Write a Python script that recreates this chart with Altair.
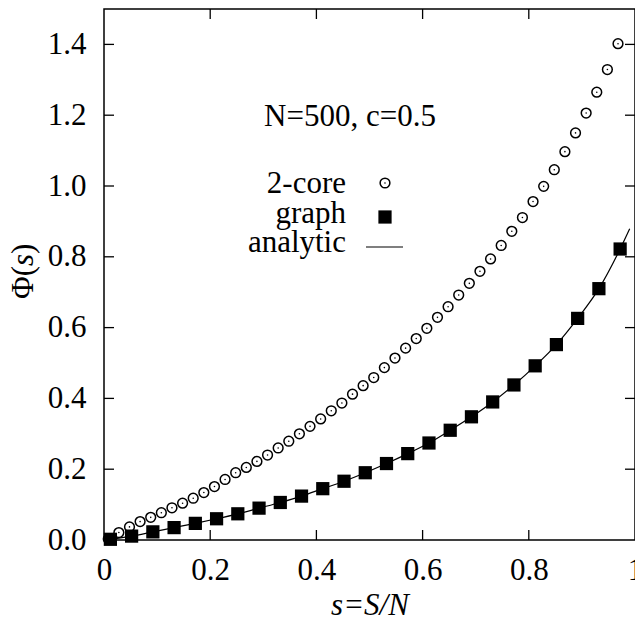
import altair as alt
import pandas as pd

# ---- data ----
core_x = [0.008, 0.028, 0.048, 0.068, 0.088, 0.108, 0.128, 0.148, 0.168, 0.188,
          0.208, 0.228, 0.248, 0.268, 0.288, 0.308, 0.328, 0.348, 0.368, 0.388,
          0.408, 0.428, 0.448, 0.468, 0.488, 0.508, 0.528, 0.548, 0.568, 0.588,
          0.608, 0.628, 0.648, 0.668, 0.688, 0.708, 0.728, 0.748, 0.768, 0.788,
          0.808, 0.828, 0.848, 0.868, 0.888, 0.908, 0.928, 0.948, 0.968]
core_y = [0.003, 0.021, 0.037, 0.052, 0.064, 0.077, 0.091, 0.104, 0.118, 0.134,
          0.151, 0.171, 0.190, 0.205, 0.222, 0.240, 0.260, 0.279, 0.300, 0.321,
          0.342, 0.365, 0.387, 0.412, 0.436, 0.459, 0.487, 0.514, 0.542, 0.569,
          0.598, 0.629, 0.659, 0.692, 0.725, 0.759, 0.794, 0.832, 0.872, 0.911,
          0.956, 0.999, 1.046, 1.097, 1.150, 1.206, 1.265, 1.329, 1.402]

graph_x = [0.012, 0.052, 0.092, 0.132, 0.172, 0.212, 0.252, 0.292, 0.332, 0.372,
           0.412, 0.452, 0.492, 0.532, 0.572, 0.612, 0.652, 0.692, 0.732, 0.772,
           0.812, 0.852, 0.892, 0.932, 0.972]
graph_y = [0.002, 0.011, 0.023, 0.035, 0.047, 0.060, 0.074, 0.090, 0.106, 0.124,
           0.145, 0.166, 0.190, 0.216, 0.244, 0.274, 0.310, 0.348, 0.390, 0.438,
           0.492, 0.552, 0.626, 0.710, 0.822]

line_x = [0.0, 0.012, 0.052, 0.092, 0.132, 0.172, 0.212, 0.252, 0.292, 0.332, 0.372,
          0.412, 0.452, 0.492, 0.532, 0.572, 0.612, 0.652, 0.692, 0.732, 0.772,
          0.812, 0.852, 0.892, 0.932, 0.972, 0.99]
line_y = [0.0, 0.002, 0.011, 0.023, 0.035, 0.047, 0.060, 0.074, 0.090, 0.106, 0.124,
          0.145, 0.166, 0.190, 0.216, 0.244, 0.274, 0.310, 0.348, 0.390, 0.438,
          0.492, 0.552, 0.626, 0.710, 0.822, 0.879]

x_tick_values = [0, 0.2, 0.4, 0.6, 0.8, 1]
y_tick_values = [0, 0.2, 0.4, 0.6, 0.8, 1.0, 1.2, 1.4]
x_inner_ticks = [0.2, 0.4, 0.6, 0.8]
y_inner_ticks = [0.2, 0.4, 0.6, 0.8, 1.0, 1.2, 1.4]

annotation = "N=500, c=0.5"
legend_labels = ["2-core", "graph", "analytic"]
x_title = "s=S/N"

# ---- layout ----
W, H = 531, 531
FONT = "Liberation Serif, Times New Roman, Times, serif"
FS = 31
TICK = 10

xs = alt.Scale(domain=[0, 1], nice=False, zero=False)
ys = alt.Scale(domain=[0, 1.5], nice=False, zero=False)

core_df = pd.DataFrame({"s": core_x, "phi": core_y})
graph_df = pd.DataFrame({"s": graph_x, "phi": graph_y})
line_df = pd.DataFrame({"s": line_x, "phi": line_y})
xt_df = pd.DataFrame({"s": x_inner_ticks})
yt_df = pd.DataFrame({"phi": y_inner_ticks})

x_axis = alt.Axis(values=x_tick_values,
                  labelExpr="datum.value == 0 ? '0' : datum.value == 1 ? '1' : format(datum.value, '.1f')",
                  ticks=False, domain=False, grid=False, labelFont=FONT,
                  labelFontSize=FS, labelColor="black", labelPadding=15,
                  title=None, labelFlush=False)
y_axis = alt.Axis(values=y_tick_values, format=".1f", ticks=False, domain=False,
                  grid=False, labelFont=FONT, labelFontSize=FS, labelColor="black",
                  labelPadding=18, title=None)

X = alt.X("s:Q", scale=xs, axis=x_axis)
Y = alt.Y("phi:Q", scale=ys, axis=y_axis)

line = alt.Chart(line_df).mark_line(color="black", strokeWidth=1.2,
                                    interpolate="monotone").encode(x=X, y=Y)

core = alt.Chart(core_df).mark_point(shape="circle", filled=False, stroke="black",
                                     strokeWidth=1.5, size=95, opacity=1).encode(x=X, y=Y)
core_dot = alt.Chart(core_df).mark_point(shape="circle", filled=True, color="black",
                                         size=2.5, opacity=1).encode(x=X, y=Y)
graph = alt.Chart(graph_df).mark_point(shape="square", filled=True, color="black",
                                       size=175, opacity=1).encode(x=X, y=Y)

# inward ticks on all four sides
tick_b = alt.Chart(xt_df).mark_rule(color="black", strokeWidth=1.3).encode(
    x=X, y=alt.value(H), y2=alt.value(H - TICK))
tick_t = alt.Chart(xt_df).mark_rule(color="black", strokeWidth=1.3).encode(
    x=X, y=alt.value(0), y2=alt.value(TICK))
tick_l = alt.Chart(yt_df).mark_rule(color="black", strokeWidth=1.3).encode(
    y=Y, x=alt.value(0), x2=alt.value(TICK))
tick_r = alt.Chart(yt_df).mark_rule(color="black", strokeWidth=1.3).encode(
    y=Y, x=alt.value(W), x2=alt.value(W - TICK))


def label(txt, x, y, align="left", angle=0, style="normal", baseline="alphabetic"):
    kw = dict(text=txt, font=FONT, fontSize=FS, color="black", align=align,
              baseline=baseline, fontStyle=style)
    if angle:
        kw["angle"] = angle
    return alt.Chart(pd.DataFrame({"k": [0]})).mark_text(**kw).encode(
        x=alt.value(x), y=alt.value(y))


ann = label(annotation, 246, 117, align="center")
leg1 = label(legend_labels[0], 242, 184, align="right")
leg2 = label(legend_labels[1], 242, 214, align="right")
leg3 = label(legend_labels[2], 242, 243, align="right")

sym_df = pd.DataFrame({"k": [0]})
sym1 = alt.Chart(sym_df).mark_point(shape="circle", filled=False, stroke="black",
                                    strokeWidth=1.5, size=95, opacity=1).encode(
    x=alt.value(281), y=alt.value(174))
sym1d = alt.Chart(sym_df).mark_point(shape="circle", filled=True, color="black",
                                     size=2.5, opacity=1).encode(
    x=alt.value(281), y=alt.value(174))
sym2 = alt.Chart(sym_df).mark_point(shape="square", filled=True, color="black",
                                    size=175, opacity=1).encode(
    x=alt.value(281), y=alt.value(208))
sym3 = alt.Chart(sym_df).mark_rule(color="black", strokeWidth=1.2).encode(
    x=alt.value(262), x2=alt.value(299), y=alt.value(238))

# y title: Φ(s) with italic s, rotated
ty_x = -71
ty0 = 257
yt1 = label("Φ(", ty_x, ty0, align="right", angle=270)
yt2 = label("s", ty_x, ty0, align="left", angle=270, style="italic")
yt3 = label(")", ty_x, ty0 - 12, align="left", angle=270)

xt = label(x_title, 266, 606, align="center", style="italic")

chart = alt.layer(
    line, core, core_dot, graph, tick_b, tick_t, tick_l, tick_r,
    ann, leg1, leg2, leg3, sym1, sym1d, sym2, sym3, yt1, yt2, yt3, xt,
).properties(
    width=W, height=H,
    autosize=alt.AutoSizeParams(type="none"),
    padding={"left": 96, "top": 1, "right": 0, "bottom": 79},
).configure(
    background="white"
).configure_view(
    stroke="black", strokeWidth=1.5
)

chart.save("out.html", embed_options={"renderer": "svg", "actions": False})
